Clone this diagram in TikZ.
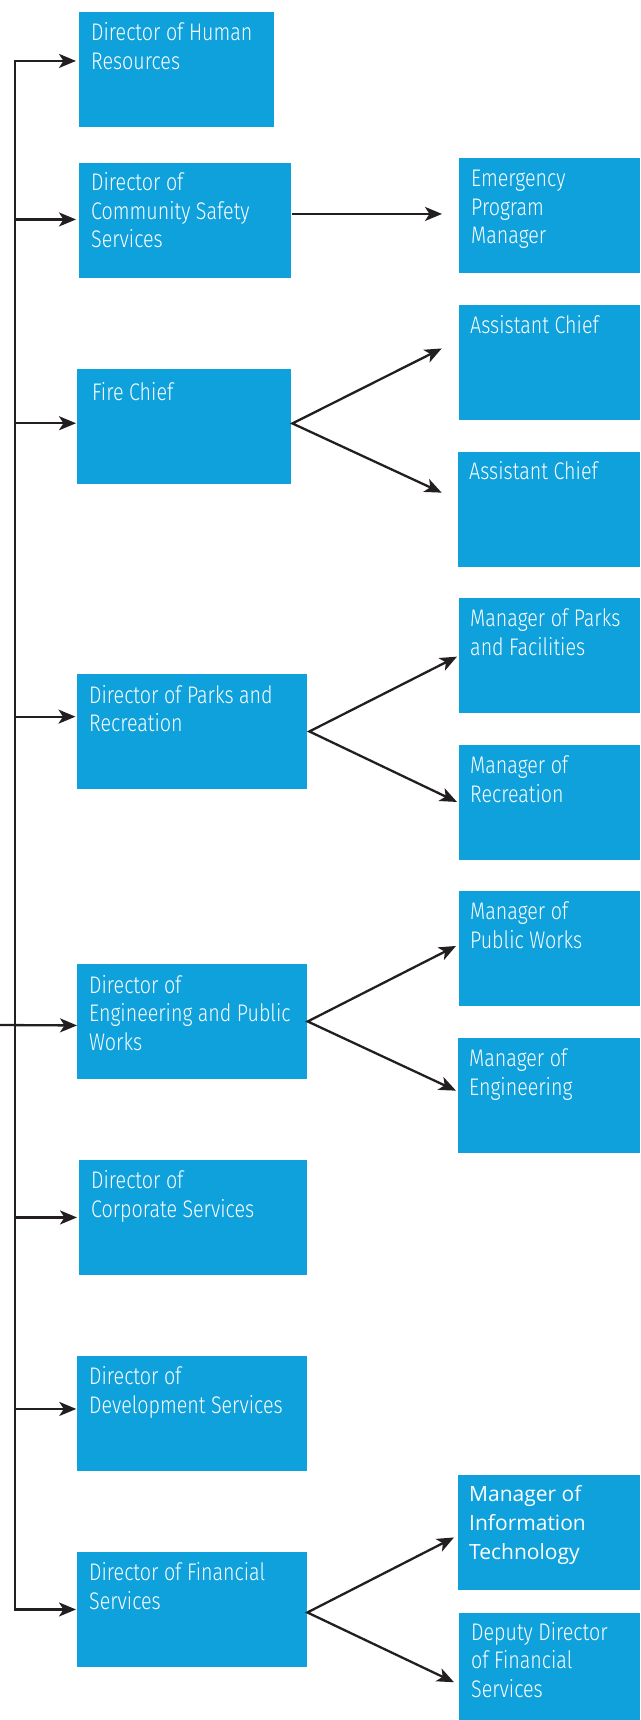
\documentclass[tikz,border=0pt]{standalone}
\usepackage{fontspec}
\usetikzlibrary{arrows.meta}
\newfontfamily\condfont[FakeStretch=0.82]{Fira Sans Light}
\newfontfamily\widefont{Open Sans}
\definecolor{boxblue}{RGB}{14,161,220}
\definecolor{inkline}{RGB}{35,31,32}
\newcommand\ml[1]{\vtop{\baselineskip=28.5pt\halign{##\hfil\cr#1\crcr}}}
\newcommand\mlw[1]{\vtop{\baselineskip=29pt\halign{##\hfil\cr#1\crcr}}}
\begin{document}
\begin{tikzpicture}[x=1pt,y=-1pt,
  orgbox/.style={fill=boxblue,draw=none,anchor=north west,inner sep=0pt,minimum height=114.5pt},
  lbl/.style={anchor=base west,inner sep=0pt,text=white,font=\condfont\fontsize{24}{28.5}\selectfont},
  lblw/.style={anchor=base west,inner sep=0pt,text=white,font=\widefont\fontsize{21}{29}\selectfont},
  ln/.style={draw=inkline,line width=2.3pt,line join=miter},
  tip/.style={},
  arr/.style={ln,-{Stealth[length=17pt,width=14pt,inset=4.5pt]}},
  arr2/.style={ln,{Stealth[length=17pt,width=14pt,inset=4.5pt]}-{Stealth[length=17pt,width=14pt,inset=4.5pt]}}]
\useasboundingbox (0,0) rectangle (640,1720);
% left column boxes
\node[orgbox,minimum width=195pt] (hr) at (79,12.3) {};
\node[orgbox,minimum width=212pt] (css) at (79,163) {};
\node[orgbox,minimum width=214pt] (fire) at (77,369) {};
\node[orgbox,minimum width=230pt] (pr) at (77,674) {};
\node[orgbox,minimum width=230pt] (eng) at (77,964) {};
\node[orgbox,minimum width=228pt] (corp) at (79,1160) {};
\node[orgbox,minimum width=230pt] (dev) at (77,1356) {};
\node[orgbox,minimum width=230pt] (fin) at (77,1552) {};
% right column boxes
\node[orgbox,minimum width=181pt] (epm) at (459,158) {};
\node[orgbox,minimum width=181pt] (ac1) at (459,305) {};
\node[orgbox,minimum width=182pt] (ac2) at (458,452) {};
\node[orgbox,minimum width=181pt] (mpf) at (459,598) {};
\node[orgbox,minimum width=181pt] (mr) at (459,745) {};
\node[orgbox,minimum width=181pt] (mpw) at (459,891) {};
\node[orgbox,minimum width=182pt] (me) at (458,1038) {};
\node[orgbox,minimum width=182pt] (mit) at (458,1475) {};
\node[orgbox,minimum width=181pt,minimum height=107pt] (ddfs) at (459,1613) {};
% labels
\node[lbl] (thr) at ([xshift=12pt,yshift=-28.5pt]hr.north west) {\ml{Director of Human\cr Resources}};
\node[lbl] (tcss) at ([xshift=12pt,yshift=-28pt]css.north west) {\ml{Director of\cr Community Safety\cr Services}};
\node[lbl] (tfire) at ([xshift=15pt,yshift=-31pt]fire.north west) {\ml{Fire Chief}};
\node[lbl] (tpr) at ([xshift=12pt,yshift=-29pt]pr.north west) {\ml{Director of Parks and\cr Recreation}};
\node[lbl] (teng) at ([xshift=12pt,yshift=-29pt]eng.north west) {\ml{Director of\cr Engineering and Public\cr Works}};
\node[lbl] (tcorp) at ([xshift=12pt,yshift=-28.5pt]corp.north west) {\ml{Director of\cr Corporate Services}};
\node[lbl] (tdev) at ([xshift=12pt,yshift=-28.5pt]dev.north west) {\ml{Director of\cr Development Services}};
\node[lbl] (tfin) at ([xshift=12pt,yshift=-28.5pt]fin.north west) {\ml{Director of Financial\cr Services}};
\node[lbl] (tepm) at ([xshift=12pt,yshift=-29pt]epm.north west) {\ml{Emergency\cr Program\cr Manager}};
\node[lbl] (tac1) at ([xshift=11pt,yshift=-28pt]ac1.north west) {\ml{Assistant Chief}};
\node[lbl] (tac2) at ([xshift=11pt,yshift=-27pt]ac2.north west) {\ml{Assistant Chief}};
\node[lbl] (tmpf) at ([xshift=11pt,yshift=-28.5pt]mpf.north west) {\ml{Manager of Parks\cr and Facilities}};
\node[lbl] (tmr) at ([xshift=11pt,yshift=-28.5pt]mr.north west) {\ml{Manager of\cr Recreation}};
\node[lbl] (tmpw) at ([xshift=11pt,yshift=-28.5pt]mpw.north west) {\ml{Manager of\cr Public Works}};
\node[lbl] (tme) at ([xshift=11pt,yshift=-28.5pt]me.north west) {\ml{Manager of\cr Engineering}};
\node[lblw] (tmit) at ([xshift=11pt,yshift=-26.7pt]mit.north west) {\mlw{Manager of\cr Information\cr Technology}};
\node[lbl] (tddfs) at ([xshift=12pt,yshift=-27pt]ddfs.north west) {\ml{Deputy Director\cr of Financial\cr Services}};
% arrow end points
\coordinate (ehr) at ([xshift=-3pt,yshift=8.8pt]hr.west);
\coordinate (ecss) at ([xshift=-3pt,yshift=1pt]css.west);
\coordinate (efire) at ([xshift=-1pt,yshift=3.2pt]fire.west);
\coordinate (epr) at ([xshift=-1.5pt,yshift=14.8pt]pr.west);
\coordinate (eeng) at ([xshift=0pt,yshift=-4pt]eng.west);
\coordinate (ecorp) at ([xshift=-2pt,yshift=0pt]corp.west);
\coordinate (edev) at ([xshift=-0.7pt,yshift=4.5pt]dev.west);
\coordinate (efin) at ([xshift=-1pt]fin.west);
\coordinate (trunk) at (15,0);
\coordinate (leftin) at (0,1025);
% trunk with top and bottom arrows
\draw[arr2] (ehr) -- (ehr -| trunk) -- (efin -| trunk) -- (efin);
\draw[arr] (ecss -| trunk) -- (ecss);
\draw[arr] (efire -| trunk) -- (efire);
\draw[arr] (epr -| trunk) -- (epr);
\draw[arr] (leftin) -- (eeng);
\draw[arr] (ecorp -| trunk) -- (ecorp);
\draw[arr] (edev -| trunk) -- (edev);
% right-side connectors
\coordinate (tepmtip) at ([xshift=-17pt,yshift=1.5pt]epm.west);
\draw[arr] ([xshift=1pt]css.east |- tepmtip) -- (tepmtip);
\draw[arr2] ([xshift=-17.3pt,yshift=14pt]ac1.west) -- ([xshift=1pt,yshift=3pt]fire.east) -- ([xshift=-16.3pt,yshift=16.8pt]ac2.west);
\draw[arr2] ([xshift=-2pt,yshift=-1.2pt]mpf.west) -- ([xshift=2pt]pr.east) -- ([xshift=-2pt,yshift=0.5pt]mr.west);
\draw[arr2] ([xshift=-3pt,yshift=2.5pt]mpw.west) -- ([xshift=0.3pt]eng.east) -- ([xshift=-2pt,yshift=4.8pt]me.west);
\draw[arr2] ([xshift=-4pt,yshift=-5pt]mit.west) -- ([yshift=-3pt]fin.east) -- ([xshift=-5pt,yshift=-15.5pt]ddfs.west);
\end{tikzpicture}
\end{document}
